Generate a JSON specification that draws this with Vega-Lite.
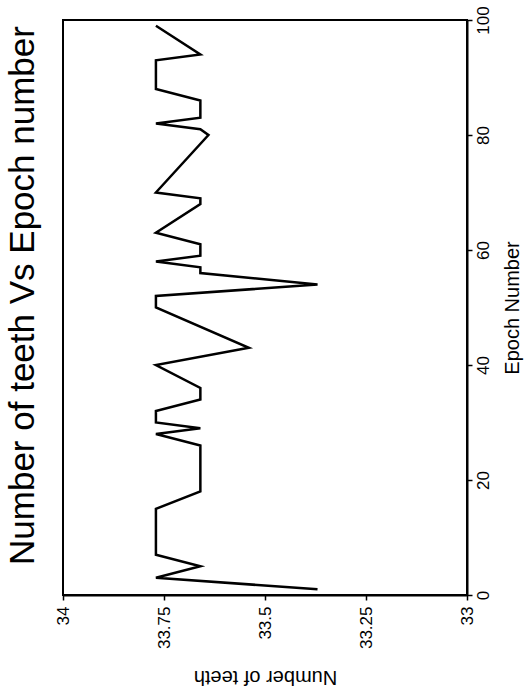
{
  "$schema": "https://vega.github.io/schema/vega-lite/v6.json",
  "width": 404,
  "height": 575,
  "autosize": {"type": "none"},
  "padding": {"left": 63, "top": 20, "right": 63, "bottom": 100},
  "background": "white",
  "config": {
    "view": {"stroke": "black", "strokeWidth": 2},
    "font": "Liberation Sans"
  },
  "title": {
    "text": "Number of teeth Vs Epoch number",
    "orient": "left",
    "anchor": "middle",
    "font": "Liberation Sans",
    "fontSize": 35,
    "fontWeight": "normal",
    "color": "black",
    "offset": 13,
    "dx": 12
  },
  "data": {
    "values": [
      {"epoch": 1, "teeth": 33.37},
      {"epoch": 3, "teeth": 33.77},
      {"epoch": 5, "teeth": 33.66},
      {"epoch": 7, "teeth": 33.77},
      {"epoch": 15, "teeth": 33.77},
      {"epoch": 18, "teeth": 33.66},
      {"epoch": 26, "teeth": 33.66},
      {"epoch": 28, "teeth": 33.77},
      {"epoch": 29, "teeth": 33.66},
      {"epoch": 30, "teeth": 33.77},
      {"epoch": 32, "teeth": 33.77},
      {"epoch": 34, "teeth": 33.66},
      {"epoch": 36, "teeth": 33.66},
      {"epoch": 40, "teeth": 33.77},
      {"epoch": 43, "teeth": 33.54},
      {"epoch": 50, "teeth": 33.77},
      {"epoch": 52, "teeth": 33.77},
      {"epoch": 54, "teeth": 33.37},
      {"epoch": 56, "teeth": 33.66},
      {"epoch": 57, "teeth": 33.66},
      {"epoch": 58, "teeth": 33.77},
      {"epoch": 59, "teeth": 33.66},
      {"epoch": 61, "teeth": 33.66},
      {"epoch": 63, "teeth": 33.77},
      {"epoch": 68, "teeth": 33.66},
      {"epoch": 69, "teeth": 33.66},
      {"epoch": 70, "teeth": 33.77},
      {"epoch": 80, "teeth": 33.64},
      {"epoch": 81, "teeth": 33.66},
      {"epoch": 82, "teeth": 33.77},
      {"epoch": 83, "teeth": 33.66},
      {"epoch": 86, "teeth": 33.66},
      {"epoch": 88, "teeth": 33.77},
      {"epoch": 93, "teeth": 33.77},
      {"epoch": 94, "teeth": 33.66},
      {"epoch": 99, "teeth": 33.77}
    ]
  },
  "mark": {"type": "line", "color": "black", "strokeWidth": 2.5, "strokeJoin": "miter"},
  "encoding": {
    "order": {"field": "epoch", "type": "quantitative"},
    "x": {
      "field": "teeth",
      "type": "quantitative",
      "scale": {"domain": [33, 34], "reverse": true, "nice": false, "zero": false},
      "axis": {
        "orient": "bottom",
        "title": "Number of teeth",
        "values": [33, 33.25, 33.5, 33.75, 34],
        "format": ".4~g",
        "grid": false,
        "domainColor": "black",
        "domainWidth": 2,
        "tickColor": "black",
        "tickWidth": 1.5,
        "tickSize": 5,
        "labelAngle": -90,
        "labelAlign": "right",
        "labelBaseline": "middle",
        "labelPadding": 6,
        "labelFont": "Liberation Sans",
        "labelFontSize": 17,
        "labelColor": "black",
        "labelFlush": false,
        "labelOverlap": false,
        "titleAngle": 180,
        "titleBaseline": "bottom",
        "titleFont": "Liberation Sans",
        "titleFontSize": 20,
        "titleFontWeight": "normal",
        "titleColor": "black",
        "titlePadding": 18
      }
    },
    "y": {
      "field": "epoch",
      "type": "quantitative",
      "scale": {"domain": [0, 100], "nice": false},
      "axis": {
        "orient": "right",
        "title": "Epoch Number",
        "values": [0, 20, 40, 60, 80, 100],
        "grid": false,
        "domainColor": "black",
        "domainWidth": 2,
        "tickColor": "black",
        "tickWidth": 1.5,
        "tickSize": 5,
        "labelAngle": -90,
        "labelAlign": "center",
        "labelBaseline": "top",
        "labelPadding": 3,
        "labelFont": "Liberation Sans",
        "labelFontSize": 17,
        "labelColor": "black",
        "labelFlush": false,
        "labelOverlap": false,
        "titleAngle": -90,
        "titleBaseline": "top",
        "titleFont": "Liberation Sans",
        "titleFontSize": 20,
        "titleFontWeight": "normal",
        "titleColor": "black",
        "titlePadding": 11
      }
    }
  }
}
